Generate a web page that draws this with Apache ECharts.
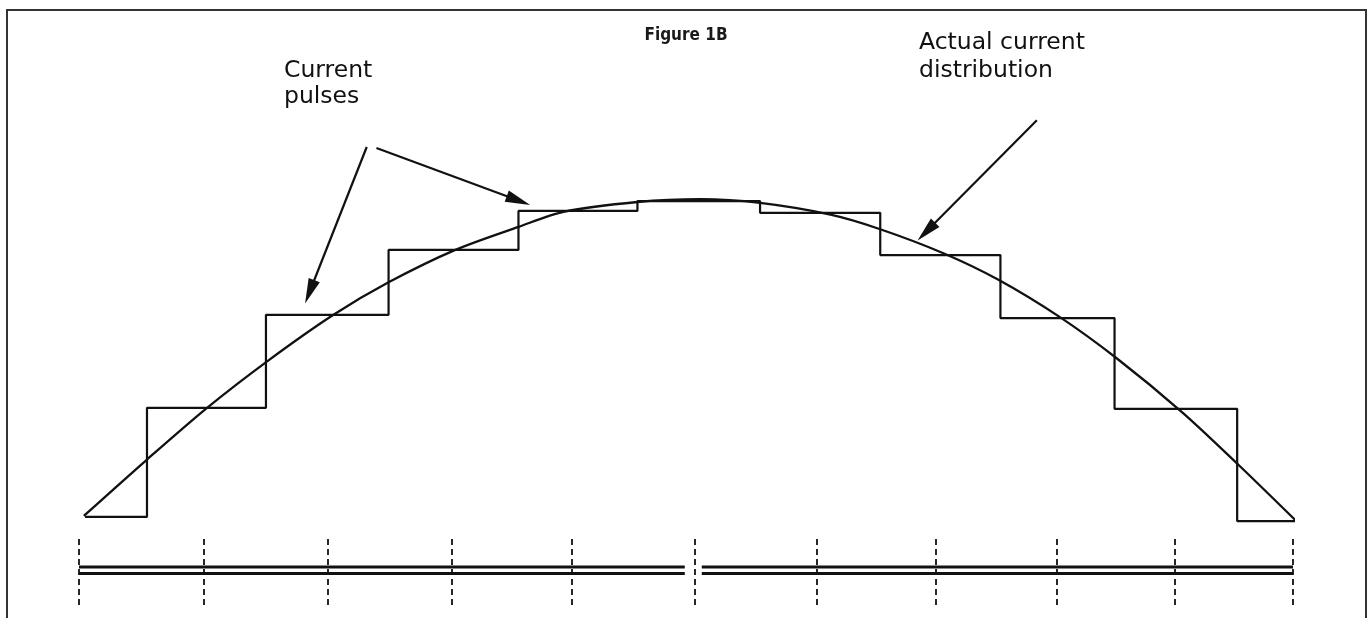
<!DOCTYPE html>
<html>
<head>
<meta charset="utf-8">
<script src="https://cdn.jsdelivr.net/npm/echarts@6/dist/echarts.min.js"></script>
<style>
  html, body { margin: 0; padding: 0; background: #fff; }
  #chart { width: 1372px; height: 618px; }
</style>
</head>
<body>
<div id="chart"></div>
<script>
// current pulses (stepped): edge positions along the antenna, level of each pulse
const pulseEdges = [0.05, 0.56, 1.54, 2.55, 3.62, 4.60, 5.61, 6.60, 7.59, 8.53, 9.54, 10.02]
const pulseLevels = [11.3, 34.5, 54.3, 68.1, 76.4, 78.5, 76.0, 67.0, 53.6, 34.3, 10.4, 10.4]

// actual current distribution
const curveX = [0.04, 0.56, 1.05, 1.55, 2.09, 2.55, 3.10, 3.62, 3.99, 4.60, 5.12, 5.61, 6.19, 6.60, 7.12, 7.57, 8.08, 8.55, 9.09, 9.55, 10.02]
const curveY = [11.5, 23.5, 34.4, 44.4, 54.2, 61.2, 68.1, 73.0, 76.2, 78.3, 78.9, 78.1, 75.6, 72.5, 67.4, 61.8, 53.8, 45.0, 33.5, 22.4, 10.6]

// segment ticks under the curve and the split double rail
const tickPos = [0, 1.03, 2.05, 3.07, 4.06, 5.07, 6.08, 7.06, 8.05, 9.03, 10.0]
const railSpans = [[0, 4.99], [5.13, 10]]
const railLevels = [3, -3.5]

// annotation arrows: [from, to]
const arrows = [
  [[2.37, 90.0], [1.90, 59.2]],
  [[2.45, 89.8], [3.62, 78.6]],
  [[7.89, 95.7], [6.98, 72.0]],
]

const ink = '#111'
const labelFont = "'DejaVu Sans', Verdana, sans-serif"
const chart = echarts.init(document.getElementById('chart'))

const railSeries = []
railLevels.forEach((lvl, i) => {
  railSpans.forEach((span, j) => {
    const s = {
      type: 'line',
      xAxisIndex: 1,
      yAxisIndex: 1,
      data: span.map(x => [x, lvl]),
      showSymbol: false,
      silent: true,
      lineStyle: { color: ink, width: 2.8 },
    }
    if (i === 0 && j === 0) {
      s.markLine = {
        silent: true,
        symbol: 'none',
        label: { show: false },
        lineStyle: { color: ink, width: 1.8, type: [6, 4] },
        data: tickPos.map(v => ({ xAxis: v })),
      }
    }
    railSeries.push(s)
  })
})

chart.setOption({
  animation: false,
  backgroundColor: '#fff',
  title: [
    {
      text: 'Figure 1B', left: 'center', top: 27, padding: 0,
      textStyle: {
        fontFamily: "'DejaVu Sans Condensed', Roboto, sans-serif",
        fontSize: 17, fontWeight: 'bold', color: '#1a1a1a',
      },
    },
    {
      text: 'Current\npulses', left: 284, top: 58, padding: 0,
      textStyle: { fontFamily: labelFont, fontSize: 23.5, fontWeight: 'normal', lineHeight: 26, color: ink },
    },
    {
      text: 'Actual current\ndistribution', left: 919, top: 29, padding: 0,
      textStyle: { fontFamily: labelFont, fontSize: 23.5, fontWeight: 'normal', lineHeight: 28, color: ink },
    },
  ],
  graphic: [{
    type: 'rect',
    z: -1,
    shape: { x: 7, y: 10, width: 1359, height: 700 },
    style: { fill: 'none', stroke: '#333', lineWidth: 2 },
  }],
  grid: [
    { left: 79, right: 79, top: 100, bottom: 48 },
    { left: 79, right: 79, top: 535, height: 70 },
  ],
  xAxis: [
    { type: 'value', gridIndex: 0, min: 0, max: 10, show: false },
    { type: 'value', gridIndex: 1, min: 0, max: 10, show: false },
  ],
  yAxis: [
    { type: 'value', gridIndex: 0, min: 0, max: 100, show: false },
    { type: 'value', gridIndex: 1, min: -35, max: 35, show: false },
  ],
  series: [
    {
      name: 'Current pulses',
      type: 'line',
      step: 'end',
      data: pulseEdges.map((x, i) => [x, pulseLevels[i]]),
      showSymbol: false,
      clip: false,
      lineStyle: { color: ink, width: 2.2 },
    },
    {
      name: 'Actual current distribution',
      type: 'line',
      smooth: 0.3,
      data: curveX.map((x, i) => [x, curveY[i]]),
      showSymbol: false,
      clip: false,
      lineStyle: { color: ink, width: 2.3 },
      markLine: {
        silent: true,
        symbol: ['none', 'triangle'],
        symbolSize: [12, 25],
        label: { show: false },
        lineStyle: { color: ink, width: 2.2, type: 'solid' },
        data: arrows.map(a => [{ coord: a[0] }, { coord: a[1] }]),
      },
    },
    ...railSeries,
  ],
})
</script>
</body>
</html>
